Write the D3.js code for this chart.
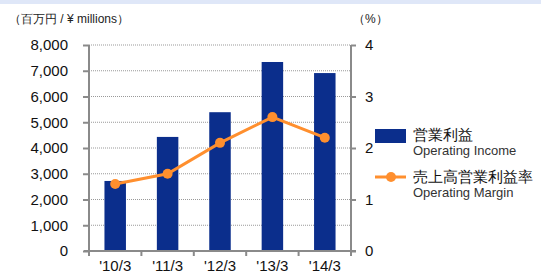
<!DOCTYPE html>
<html>
<head>
<meta charset="utf-8">
<script src="https://cdn.jsdelivr.net/npm/d3@7"></script>
<style>
  body { margin: 0; background: #fff; }
  svg { display: block; font-family: "Liberation Sans", Arial, sans-serif; }
</style>
</head>
<body>
<div id="chart"></div>
<script>
// data
var years = ["'10/3", "'11/3", "'12/3", "'13/3", "'14/3"];
var income = [2720, 4430, 5390, 7340, 6910];   // 百万円
var margin = [1.3, 1.5, 2.1, 2.6, 2.2];         // %
var leftTicks = [0, 1000, 2000, 3000, 4000, 5000, 6000, 7000, 8000];
var rightTicks = [0, 1, 2, 3, 4];

var width = 541, height = 273;
var plot = {left: 89, right: 351, top: 45, bottom: 251};

var svg = d3.select("#chart").append("svg")
  .attr("width", width)
  .attr("height", height);

// light band at the very top
svg.append("rect")
  .attr("x", 0).attr("y", 0)
  .attr("width", width).attr("height", 4)
  .attr("fill", "#dfe7f8");

var x = d3.scaleBand().domain(years).range([plot.left, plot.right]);
var yL = d3.scaleLinear().domain([0, 8000]).range([plot.bottom, plot.top]);
var yR = d3.scaleLinear().domain([0, 4]).range([plot.bottom, plot.top]);

// dotted grid
svg.append("g").selectAll("line")
  .data(leftTicks.filter(d => d > 0))
  .enter().append("line")
  .attr("x1", plot.left).attr("x2", plot.right)
  .attr("y1", d => yL(d)).attr("y2", d => yL(d))
  .attr("stroke", "#999")
  .attr("stroke-width", 1)
  .attr("stroke-dasharray", "1,1");

// bars
var barW = x.bandwidth() * 0.41;
svg.append("g").selectAll("rect")
  .data(income)
  .enter().append("rect")
  .attr("x", (d, i) => x(years[i]) + x.bandwidth() / 2 - barW / 2)
  .attr("y", d => yL(d))
  .attr("width", barW)
  .attr("height", d => plot.bottom - yL(d))
  .attr("fill", "#0b2e8c");

// axes
var axisColor = "#8a8a8a";
var gLeft = svg.append("g").attr("transform", "translate(" + plot.left + ",0)")
  .call(d3.axisLeft(yL).tickValues(leftTicks).tickSize(6).tickPadding(15).tickFormat(d3.format(",")));
var gRight = svg.append("g").attr("transform", "translate(" + plot.right + ",0)")
  .call(d3.axisRight(yR).tickValues(rightTicks).tickSize(5).tickPadding(9).tickFormat(d3.format("d")));
var gBottom = svg.append("g").attr("transform", "translate(0," + plot.bottom + ")")
  .call(d3.axisBottom(x).tickSize(0).tickPadding(9));

[gLeft, gRight, gBottom].forEach(function(g) {
  g.select(".domain").attr("stroke", axisColor).attr("stroke-width", 2);
  g.selectAll(".tick line").attr("stroke", axisColor).attr("stroke-width", 2);
  g.selectAll("text").attr("fill", "#111").style("font-size", "15px");
});
gLeft.select(".domain").attr("d", "M0," + plot.bottom + "V" + plot.top);
gRight.select(".domain").attr("d", "M0," + plot.bottom + "V" + plot.top);
gBottom.select(".domain").attr("d", "M" + (plot.left - 5) + ",0H" + (plot.right + 5));
gBottom.selectAll("text").attr("dy", "0.71em");

// ticks under the category axis, at band edges
svg.append("g").selectAll("line")
  .data(years.concat(["end"]))
  .enter().append("line")
  .attr("x1", (d, i) => plot.left + i * x.step())
  .attr("x2", (d, i) => plot.left + i * x.step())
  .attr("y1", plot.bottom).attr("y2", plot.bottom + 5)
  .attr("stroke", axisColor).attr("stroke-width", 2);

// margin line
var line = d3.line()
  .x((d, i) => x(years[i]) + x.bandwidth() / 2)
  .y(d => yR(d));
svg.append("path")
  .datum(margin)
  .attr("d", line)
  .attr("fill", "none")
  .attr("stroke", "#ff8f2e")
  .attr("stroke-width", 3);
svg.append("g").selectAll("circle")
  .data(margin)
  .enter().append("circle")
  .attr("cx", (d, i) => x(years[i]) + x.bandwidth() / 2)
  .attr("cy", d => yR(d))
  .attr("r", 5)
  .attr("fill", "#ff8f2e");

// unit labels
svg.append("text").attr("x", 9).attr("y", 23)
  .style("font-size", "12px").attr("fill", "#222")
  .text("（百万円 / ¥ millions）");
svg.append("text").attr("x", 353).attr("y", 23)
  .style("font-size", "12px").attr("fill", "#222")
  .text("（%）");

// legend
var lg = svg.append("g");
lg.append("rect").attr("x", 375).attr("y", 129).attr("width", 31).attr("height", 14).attr("fill", "#0b2e8c");
lg.append("text").attr("x", 413).attr("y", 140).style("font-size", "15px").attr("fill", "#111").text("営業利益");
lg.append("text").attr("x", 413).attr("y", 155).style("font-size", "13px").attr("fill", "#333").text("Operating Income");
lg.append("line").attr("x1", 375).attr("x2", 406).attr("y1", 177).attr("y2", 177)
  .attr("stroke", "#ff8f2e").attr("stroke-width", 3);
lg.append("circle").attr("cx", 391).attr("cy", 177).attr("r", 5).attr("fill", "#ff8f2e");
lg.append("text").attr("x", 413).attr("y", 182).style("font-size", "15px").attr("fill", "#111").text("売上高営業利益率");
lg.append("text").attr("x", 413).attr("y", 197).style("font-size", "13px").attr("fill", "#333").text("Operating Margin");
</script>
</body>
</html>
